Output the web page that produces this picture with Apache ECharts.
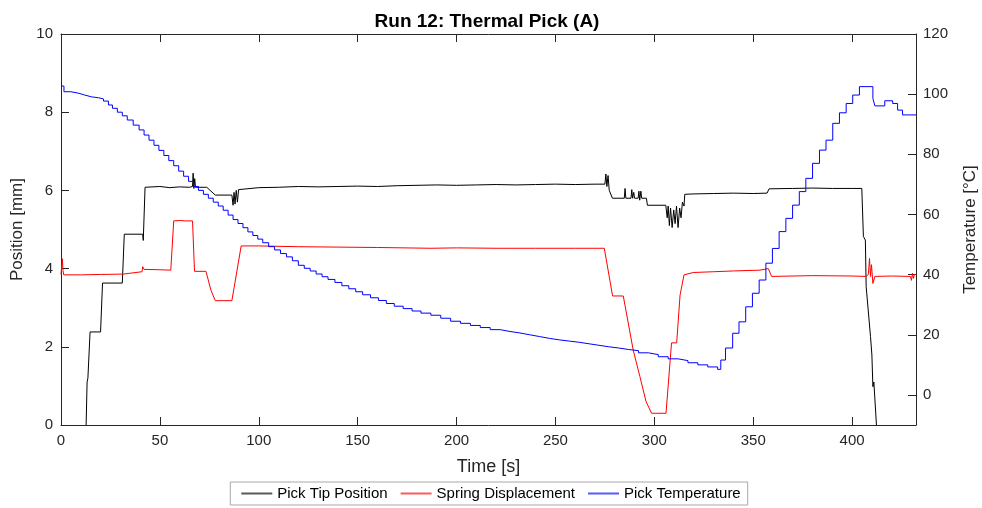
<!DOCTYPE html>
<html>
<head>
<meta charset="utf-8">
<script src="https://cdn.jsdelivr.net/npm/echarts@6/dist/echarts.min.js"></script>
<style>
  html, body { margin: 0; padding: 0; background: #ffffff; }
  #chart { width: 982px; height: 508px; }
</style>
</head>
<body>
<div id="chart"></div>
<script>
// Run 12 log: [time s, value]
const seriesNames = ['Pick Tip Position', 'Spring Displacement', 'Pick Temperature'];
const seriesColors = ['#000000', '#ff0000', '#0000ff'];

// Pick tip position [mm]
const tipPosition = [
  [12.7, 0], [13.2, 1.1], [13.6, 1.2], [14.7, 2.38], [20.0, 2.38], [21.0, 3.63], [31.0, 3.63],
  [32.0, 4.88], [41.3, 4.88], [41.6, 4.72], [42.5, 6.08], [50, 6.1], [55, 6.07], [60, 6.09],
  [65, 6.08], [66.5, 6.1], [66.8, 6.44], [67.2, 6.05], [67.6, 6.3], [68, 6.08], [73.7, 6.08],
  [78, 5.88], [86.4, 5.88], [87, 5.62], [87.5, 5.95], [88, 5.65], [88.6, 6.0], [89.2, 5.7],
  [89.8, 6.02], [90.6, 6.05], [100, 6.07], [110, 6.08], [120, 6.1], [130, 6.09], [140, 6.1],
  [150, 6.11], [160, 6.1], [170, 6.12], [180, 6.13], [190, 6.14], [200, 6.13], [210, 6.14],
  [220, 6.15], [230, 6.14], [240, 6.15], [250, 6.16], [260, 6.15], [270, 6.16], [275, 6.16],
  [275.5, 6.42], [276, 6.1], [276.6, 6.38], [277.2, 6.0], [278, 5.95], [278.8, 5.8],
  [284.8, 5.8], [285.2, 6.05], [285.6, 5.8], [288.2, 5.8], [288.6, 6.02], [289, 5.8],
  [289.6, 5.95], [290, 5.8], [291.8, 5.8], [292.2, 5.98], [292.6, 5.75], [293.2, 5.98],
  [293.6, 5.8], [296, 5.8], [296.5, 5.62], [305.8, 5.62], [306.5, 5.3], [307, 5.6],
  [307.6, 5.1], [308.2, 5.55], [309, 5.05], [309.8, 5.5], [310.5, 5.15], [311.2, 5.6],
  [312, 5.05], [312.8, 5.55], [313.5, 5.3], [314.2, 5.7], [315, 5.6], [315.4, 5.9],
  [320, 5.91], [330, 5.92], [340, 5.93], [350, 5.92], [357, 5.93], [358, 6.04], [370, 6.05],
  [380, 6.06], [390, 6.05], [400, 6.05], [404.9, 6.05], [405.7, 4.82], [406.7, 4.73],
  [407.1, 3.54], [409.3, 2.26], [410, 1.79], [410.5, 0.98], [411, 1.1], [411.5, 1.15], [412.3, 0]
];

// Spring displacement [mm]
const springDisplacement = [
  [0, 3.85], [0.4, 3.9], [0.7, 4.25], [1.0, 3.95], [1.4, 3.84], [10, 3.84], [20, 3.85],
  [31.5, 3.86], [32, 3.9], [41, 3.92], [41.3, 4.05], [42, 3.98], [50, 3.97], [55.5, 3.96],
  [57, 5.22], [60, 5.23], [63, 5.22], [66.5, 5.22], [67.5, 3.93], [73.3, 3.93], [75.8, 3.45],
  [76.5, 3.4], [78, 3.18], [86.4, 3.18], [91.1, 4.58], [100, 4.58], [120, 4.56], [140, 4.55],
  [160, 4.54], [187, 4.52], [200, 4.53], [220, 4.52], [240, 4.52], [260, 4.52], [274.7, 4.52],
  [278.9, 3.3], [284.3, 3.3], [289.3, 1.92], [292.7, 1.24], [295.8, 0.6], [298.6, 0.3],
  [305.9, 0.3], [308.7, 2.1], [311.3, 2.1], [313, 3.32], [315, 3.84], [319.7, 3.9],
  [330, 3.92], [340, 3.94], [353.4, 3.96], [357.6, 4.0], [359.3, 3.8], [380, 3.82],
  [400, 3.81], [407, 3.8], [408.2, 3.85], [408.8, 4.26], [409.3, 3.8], [409.8, 4.1],
  [410.5, 3.62], [411.5, 3.8], [420, 3.81], [429.5, 3.8], [430, 3.7], [430.5, 3.88],
  [431, 3.75], [431.5, 3.85], [432.3, 3.85]
];

// Pick temperature [°C], sensor readings held until the next one
const pickTemperature = [
  [0, 102.7], [1.5, 100.8], [5, 100.3], [9, 99.7], [12, 99.1], [15.5, 98.8], [19, 98.4],
  [21.5, 97.7], [24, 96.4], [26, 95.3], [28.5, 94.0], [31, 92.8], [33.5, 91.4], [36.5, 89.7],
  [39.5, 88.1], [42, 86.4], [44.5, 84.7], [47, 83.0], [49.5, 81.3], [52, 79.6], [54.5, 77.9],
  [57, 76.2], [59.5, 74.4], [62, 72.7], [64.5, 71.0], [67, 69.3], [69.5, 68.0], [72, 66.7],
  [74.5, 65.4], [77, 64.1], [79.5, 62.8], [82, 61.4], [84.5, 59.8], [87, 58.3], [89.5, 57.0],
  [92, 55.6], [94.5, 54.2], [97, 53.0], [99.5, 51.8], [102, 50.6], [105, 49.3], [108, 48.2],
  [111, 47.0], [114, 45.9], [117, 44.6], [120, 43.1], [123, 42.1], [126, 41.2], [129, 40.2],
  [132, 39.3], [135, 38.4], [138.5, 37.4], [142, 36.3], [145.5, 35.3], [149, 34.3],
  [152.5, 33.3], [156.5, 32.3], [160.5, 31.4], [164.5, 30.4], [168.5, 29.5], [173, 28.7],
  [177.5, 27.9], [182, 27.2], [187, 26.5], [192, 25.5], [197, 24.5], [202, 23.8], [207, 23.1],
  [212, 22.4], [217, 21.7], [222, 21.1], [227, 20.6], [232, 20.0], [237, 19.4], [242, 18.8],
  [247, 18.3], [252, 17.9], [257, 17.5], [262, 17.0], [267, 16.5], [272, 16.0], [277, 15.6],
  [282, 15.1], [287, 14.7], [292, 14.0], [297, 13.4], [302, 12.7], [307, 12.0], [312, 11.4],
  [317, 10.7], [322, 10.0], [327, 9.3], [332, 8.5], [333.6, 11.6], [336, 15.6], [339.6, 20.5],
  [342.8, 24.3], [346.2, 29.3], [349.6, 33.8], [353, 38.2], [356.4, 43.8], [359.7, 48.7],
  [363.1, 54.3], [366.5, 58.7], [369.9, 63.1], [373.3, 67.6], [376.6, 72.0], [380, 77.0],
  [383.5, 81.4], [386.8, 84.7], [390.2, 90.3], [393.6, 93.8], [397, 96.9], [400.3, 99.7],
  [403.7, 102.5], [410.5, 98.6], [411.5, 96.1], [416.5, 97.8], [420.5, 96.9], [423, 94.7],
  [425.5, 93.1], [432.3, 93.1]
];

// Axis ranges and tick labels
const timeRange = [0, 432.3];
const timeTicks = [0, 50, 100, 150, 200, 250, 300, 350, 400];
const positionRange = [0, 10];
const positionTicks = [0, 2, 4, 6, 8, 10];
const temperatureRange = [-10, 120];
const temperatureTicks = [0, 20, 40, 60, 80, 100, 120];

const FONT = '"Liberation Sans", Arial, Helvetica, sans-serif';
const AXIS_COLOR = '#262626';

function xAxisDef(position, withLabels) {
  return {
    type: 'value',
    position: position,
    min: timeRange[0],
    max: timeRange[1],
    axisLine: { show: true, onZero: false, lineStyle: { color: AXIS_COLOR, width: 1 } },
    axisTick: { show: true, inside: true, length: 8, customValues: timeTicks,
                lineStyle: { color: AXIS_COLOR, width: 1 } },
    axisLabel: { show: withLabels, customValues: timeTicks, color: AXIS_COLOR,
                 fontSize: 15, fontFamily: FONT, margin: 8 },
    splitLine: { show: false },
    name: withLabels ? 'Time [s]' : '',
    nameLocation: 'middle',
    nameGap: 33,
    nameTextStyle: { fontSize: 18, fontFamily: FONT, color: AXIS_COLOR }
  };
}

const chart = echarts.init(document.getElementById('chart'), null, { renderer: 'canvas' });

chart.setOption({
  animation: false,
  backgroundColor: '#ffffff',
  title: {
    text: 'Run 12: Thermal Pick (A)',
    left: 482,
    textAlign: 'center',
    top: 7,
    textStyle: { fontSize: 19, fontWeight: 'bold', fontFamily: FONT, color: '#000000' }
  },
  grid: { left: 61, right: 66, top: 34, bottom: 83, containLabel: false, outerBoundsMode: 'none' },
  xAxis: [xAxisDef('bottom', true), xAxisDef('top', false)],
  yAxis: [
    {
      type: 'value',
      position: 'left',
      min: positionRange[0],
      max: positionRange[1],
      axisLine: { show: true, onZero: false, lineStyle: { color: AXIS_COLOR, width: 1 } },
      axisTick: { show: true, inside: true, length: 8, customValues: positionTicks,
                  lineStyle: { color: AXIS_COLOR, width: 1 } },
      axisLabel: { customValues: positionTicks, color: AXIS_COLOR, fontSize: 15,
                   fontFamily: FONT, margin: 8 },
      splitLine: { show: false },
      name: 'Position [mm]',
      nameLocation: 'middle',
      nameRotate: 90,
      nameGap: 24,
      nameTextStyle: { fontSize: 17, fontFamily: FONT, color: AXIS_COLOR }
    },
    {
      type: 'value',
      position: 'right',
      min: temperatureRange[0],
      max: temperatureRange[1],
      axisLine: { show: true, onZero: false, lineStyle: { color: AXIS_COLOR, width: 1 } },
      axisTick: { show: true, inside: true, length: 8, customValues: temperatureTicks,
                  lineStyle: { color: AXIS_COLOR, width: 1 } },
      axisLabel: { customValues: temperatureTicks, color: AXIS_COLOR, fontSize: 15,
                   fontFamily: FONT, margin: 7 },
      splitLine: { show: false },
      name: 'Temperature [°C]',
      nameLocation: 'middle',
      nameRotate: 90,
      nameGap: 46,
      nameTextStyle: { fontSize: 17, fontFamily: FONT, color: AXIS_COLOR }
    }
  ],
  legend: {
    data: seriesNames.map((name, i) => ({
      name: name,
      icon: 'rect',
      itemStyle: { color: seriesColors[i], opacity: 0.65, borderWidth: 0 }
    })),
    left: 'center',
    bottom: 3,
    orient: 'horizontal',
    itemWidth: 31,
    itemHeight: 2,
    itemGap: 13,
    padding: [4, 7, 4, 11],
    borderColor: '#a8a8a8',
    borderWidth: 1,
    borderRadius: 0,
    textStyle: { fontSize: 15, fontFamily: FONT, color: '#000000' }
  },
  series: [
    {
      name: seriesNames[0], type: 'line', data: tipPosition,
      xAxisIndex: 0, yAxisIndex: 0, symbol: 'none', clip: true,
      lineStyle: { color: seriesColors[0], width: 1 }, itemStyle: { color: seriesColors[0] }
    },
    {
      name: seriesNames[1], type: 'line', data: springDisplacement,
      xAxisIndex: 0, yAxisIndex: 0, symbol: 'none', clip: true,
      lineStyle: { color: seriesColors[1], width: 1 }, itemStyle: { color: seriesColors[1] }
    },
    {
      name: seriesNames[2], type: 'line', data: pickTemperature, step: 'end',
      xAxisIndex: 0, yAxisIndex: 1, symbol: 'none', clip: true,
      lineStyle: { color: seriesColors[2], width: 1 }, itemStyle: { color: seriesColors[2] }
    }
  ]
});
</script>
</body>
</html>
